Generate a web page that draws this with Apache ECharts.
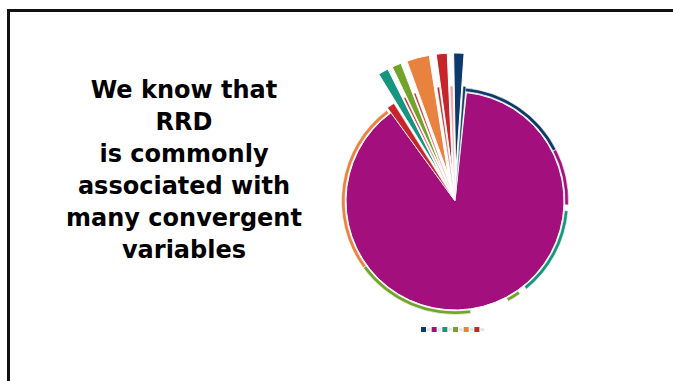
<!DOCTYPE html>
<html><head><meta charset="utf-8">
<script src="https://cdn.jsdelivr.net/npm/echarts@6/dist/echarts.min.js"></script>
<style>html,body{margin:0;padding:0;background:#fff}#c{width:673px;height:381px}</style>
</head><body><div id="c"></div>
<script>
// ---- text ----
const titleLines = ['We know that', 'RRD', 'is commonly', 'associated with', 'many convergent', 'variables'];
// ---- categories (legend) ----
const categories = ['V1', 'V2', 'V3', 'V4', 'V5', 'V6'];
// ---- slices: category index per slice (-1 = empty gap), value in degrees of arc ----
const mainCats   = [1, -1];
const mainValues = [318, 42];
const ringCats   = [-1, 0, 1, -1, 2, -1, 3, -1, 3, 4, -1];
const ringValues = [5, 58, 29, 3, 46, 4, 7, 20, 62, 89, 37];
const wedgeCats   = [-1, 2, -1, 3, -1, 4, -1, 5, -1, 0, -1];
const wedgeValues = [4.5, 5, 1, 4.5, 1, 11, 1.2, 5.3, 1.5, 5, 320];
const thinCats   = [5, -1, 5, -1, 5, -1, 5, -1, 6, -1, 0, -1];
const thinValues = [4, 5.5, 1, 4.5, 1, 11, 1.2, 5.3, 1.5, 5, 1.5, 318.5];

// ---- styles ----
const palette = ['#0d3a6a', '#a30f7d', '#17967f', '#72a32b', '#e8823e', '#c7252a', '#f0a0a4'];
const paletteNames = categories.concat(['V6']);

function build(cats, vals, sel) {
  return vals.map(function (v, i) {
    const c = cats[i];
    if (c < 0) {
      return { value: v, name: 'gap', itemStyle: { color: 'rgba(0,0,0,0)', borderWidth: 0 }, selected: false };
    }
    return { value: v, name: paletteNames[c], itemStyle: { color: palette[c] }, selected: sel };
  });
}

const common = {
  type: 'pie',
  center: [455, 201],
  clockwise: true,
  label: { show: false },
  labelLine: { show: false },
  emphasis: { disabled: true },
  animation: false,
  avoidLabelOverlap: false
};

const chart = echarts.init(document.getElementById('c'), null, { renderer: 'svg' });
chart.setOption({
  animation: false,
  title: {
    text: titleLines.join('\n'),
    left: 184,
    top: 74,
    padding: 0,
    textAlign: 'center',
    textStyle: {
      fontFamily: "'DejaVu Sans', sans-serif",
      fontWeight: 'bold',
      fontSize: 24,
      lineHeight: 32,
      color: '#000'
    }
  },
  legend: {
    data: categories,
    left: 421,
    top: 327,
    padding: 0,
    itemWidth: 5,
    itemHeight: 5,
    itemGap: 1,
    icon: 'rect',
    selectedMode: false,
    itemStyle: { borderWidth: 0 },
    textStyle: { fontSize: 3, color: '#a8b0bc', padding: [0, 0, 0, -4] }
  },
  graphic: [{
    type: 'polyline',
    shape: { points: [[8.5, 381], [8.5, 10.5], [673, 10.5]] },
    style: { stroke: '#111', lineWidth: 3, fill: null },
    silent: true
  }],
  series: [
    Object.assign({}, common, {
      name: 'ring', z: 1, radius: [110, 113.5], startAngle: 90,
      itemStyle: { borderColor: '#fff', borderWidth: 0.6 },
      data: build(ringCats, ringValues, false)
    }),
    Object.assign({}, common, {
      name: 'main', z: 2, radius: [0, 109], startAngle: 84,
      itemStyle: { borderColor: '#fff', borderWidth: 1 },
      data: build(mainCats, mainValues, false)
    }),
    Object.assign({}, common, {
      name: 'thin', z: 3, radius: [0, 110], startAngle: 126,
      selectedMode: 'multiple', selectedOffset: 5,
      itemStyle: { borderColor: '#fff', borderWidth: 0.5 },
      data: build(thinCats, thinValues, true)
    }),
    Object.assign({}, common, {
      name: 'wedge', z: 4, radius: [0, 120], startAngle: 126,
      selectedMode: 'multiple', selectedOffset: 28,
      itemStyle: { borderColor: '#fff', borderWidth: 1 },
      data: build(wedgeCats, wedgeValues, true)
    })
  ]
});
</script>
</body></html>
